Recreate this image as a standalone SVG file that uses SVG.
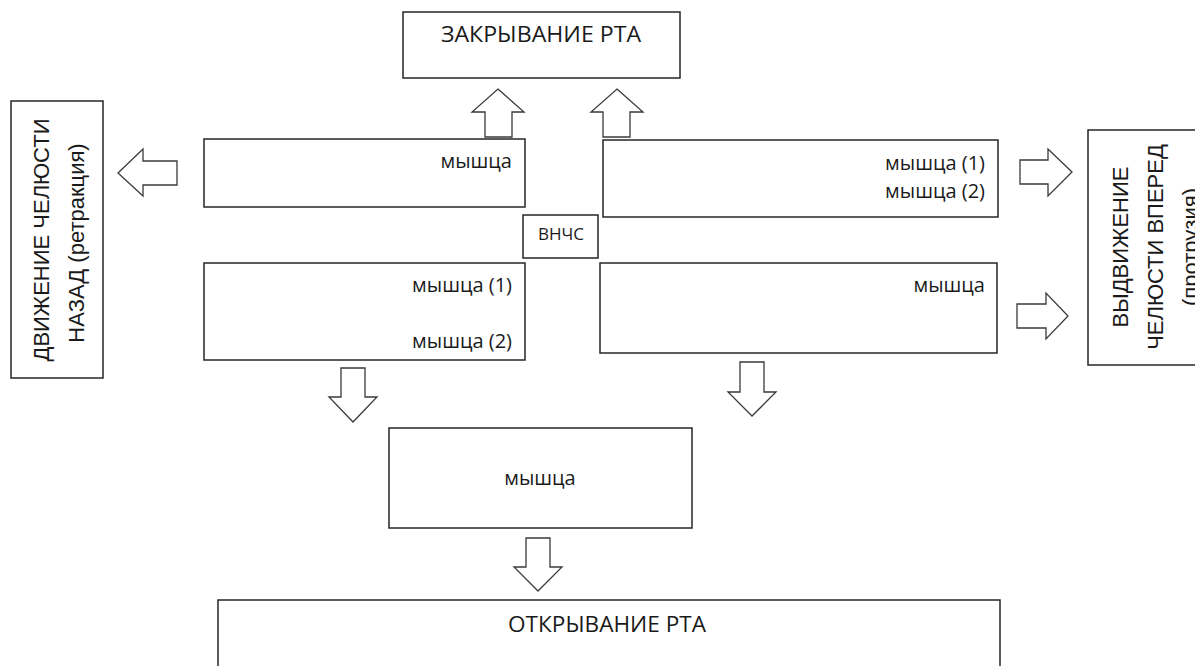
<svg xmlns="http://www.w3.org/2000/svg" width="1195" height="666" viewBox="0 0 1195 666">
<style>
.box{fill:#fff;stroke:#262626;stroke-width:1.5}
.arr{fill:#fff;stroke:#3a3a3a;stroke-width:1.3;stroke-linejoin:miter}
.t{font-family:"Open Sans","Noto Sans",sans-serif;fill:#1a1a1a}
.v{font-family:"Liberation Sans",Arial,sans-serif;fill:#1a1a1a;font-size:22px}
</style>
<rect width="1195" height="666" fill="#fff"/>
<g id="connectors">
<path class="arr" d="M498,89 L524,112 L512,112 L512,137 L485,137 L485,112 L472,112 Z"/>
<path class="arr" d="M617,89 L643,112 L630,112 L630,137 L603,137 L603,112 L591,112 Z"/>
<path class="arr" d="M118,173 L143,149 L143,161 L177,161 L177,185 L143,185 L143,196 Z"/>
<path class="arr" d="M1072,172 L1048,149 L1048,160 L1020,160 L1020,184 L1048,184 L1048,196 Z"/>
<path class="arr" d="M1068,316 L1046,293 L1046,304 L1017,304 L1017,328 L1046,328 L1046,339 Z"/>
<path class="arr" d="M341,368 L365,368 L365,397 L377,397 L353,422 L329,397 L341,397 Z"/>
<path class="arr" d="M740,362 L764,362 L764,392 L776,392 L752,416 L728,392 L740,392 Z"/>
<path class="arr" d="M526,538 L550,538 L550,567 L562,567 L538,591 L514,567 L526,567 Z"/>
</g>
<g id="close">
<rect class="box" x="403" y="12" width="277" height="66"/>
<text class="t" x="541" y="42" font-size="22" text-anchor="middle" textLength="200" lengthAdjust="spacingAndGlyphs">ЗАКРЫВАНИЕ РТА</text>
</g>
<g id="retraction">
<rect class="box" x="11" y="101" width="92" height="277"/>
<text class="v" transform="translate(49,240) rotate(-90)" text-anchor="middle">ДВИЖЕНИЕ ЧЕЛЮСТИ</text>
<text class="v" transform="translate(84,243) rotate(-90)" text-anchor="middle">НАЗАД (ретракция)</text>
</g>
<g id="protrusion">
<rect class="box" x="1088" y="130" width="130" height="235"/>
<text class="v" transform="translate(1128,247) rotate(-90)" text-anchor="middle">ВЫДВИЖЕНИЕ</text>
<text class="v" transform="translate(1163,247) rotate(-90)" text-anchor="middle">ЧЕЛЮСТИ ВПЕРЕД</text>
<text class="v" transform="translate(1198,247) rotate(-90)" text-anchor="middle">(протрузия)</text>
</g>
<g id="m-ul">
<rect class="box" x="204" y="139" width="321" height="68"/>
<text class="t" x="512" y="168" font-size="20" text-anchor="end">мышца</text>
</g>
<g id="m-ur">
<rect class="box" x="603" y="140" width="395" height="77"/>
<text class="t" x="985" y="170" font-size="20" text-anchor="end">мышца (1)</text>
<text class="t" x="985" y="198" font-size="20" text-anchor="end">мышца (2)</text>
</g>
<g id="tmj">
<rect class="box" x="523" y="215" width="75" height="43"/>
<text class="t" x="561" y="240" font-size="17" text-anchor="middle">ВНЧС</text>
</g>
<g id="m-ll">
<rect class="box" x="204" y="263" width="321" height="97"/>
<text class="t" x="512" y="292" font-size="20" text-anchor="end">мышца (1)</text>
<text class="t" x="512" y="348" font-size="20" text-anchor="end">мышца (2)</text>
</g>
<g id="m-lr">
<rect class="box" x="600" y="263" width="397" height="90"/>
<text class="t" x="985" y="292" font-size="20" text-anchor="end">мышца</text>
</g>
<g id="m-mid">
<rect class="box" x="389" y="428" width="303" height="100"/>
<text class="t" x="540" y="485" font-size="20" text-anchor="middle">мышца</text>
</g>
<g id="open">
<rect class="box" x="218" y="600" width="782" height="90"/>
<text class="t" x="607" y="632" font-size="22" text-anchor="middle" textLength="198" lengthAdjust="spacingAndGlyphs">ОТКРЫВАНИЕ РТА</text>
</g>
</svg>
